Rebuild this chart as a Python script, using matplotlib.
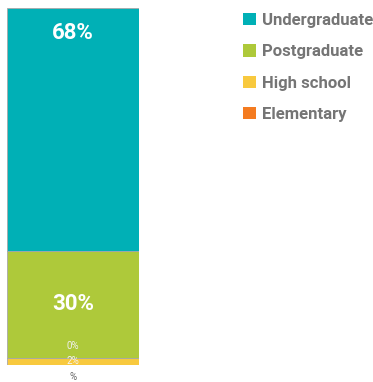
import matplotlib.pyplot as plt
import numpy as np

plt.rcParams['font.family'] = ['Roboto', 'DejaVu Sans']

# stacked shares, bottom to top
levels = ['Elementary', 'High school', 'Postgraduate', 'Undergraduate']
shares = [0, 2, 30, 68]
colors = ['#F47B20', '#F8C93E', '#AEC93A', '#00B0B6']
category = ['%']

fig = plt.figure(figsize=(3.73, 3.82), dpi=100)
ax = fig.add_axes([7 / 373, 17 / 382, 132 / 373, 357 / 382])

bottom = 0
bars = []
for name, v, c in zip(levels, shares, colors):
    b = ax.bar(category, [v], bottom=bottom, width=1.0, color=c,
               edgecolor='#a8a8a8', linewidth=0.6, label=name)
    bars.append(b)
    # value labels
    if v >= 30:
        if v == max(shares):
            ax.annotate(f'{v}%', (0, bottom + v), xytext=(0, -18),
                        textcoords='offset points', ha='center', va='center',
                        color='white', fontsize=16, fontweight='bold')
        else:
            ax.text(0, bottom + v / 2, f'{v}%', ha='center', va='center',
                    color='white', fontsize=16, fontweight='bold')
    elif v > 0:
        ax.text(0, bottom + v / 2, f'{v}%', ha='center', va='center',
                color='#f4f4f4', fontsize=7)
    else:
        ax.annotate(f'{v}%', (0, bottom), xytext=(0, 14),
                    textcoords='offset points', ha='center', va='center',
                    color='#f0f0f0', fontsize=7)
    bottom += v

ax.set_xlim(-0.5, 0.5)
ax.set_ylim(0, 100)
ax.set_yticks([])
ax.tick_params(axis='x', length=0, labelsize=7, labelcolor='#666666', pad=5)
for s in ax.spines.values():
    s.set_visible(False)

handles = [b for b in bars][::-1]
leg = fig.legend(handles, levels[::-1], loc='upper left',
                 bbox_to_anchor=(228 / 373, 1 + 2 / 382), frameon=False,
                 handlelength=0.75, handleheight=0.75, handletextpad=0.38,
                 labelspacing=0.98, prop={'size': 12, 'weight': 'bold'})
for t in leg.get_texts():
    t.set_color('#757575')
for h in leg.legend_handles:
    h.set_edgecolor('none')

fig.savefig('out.png', dpi=100)
